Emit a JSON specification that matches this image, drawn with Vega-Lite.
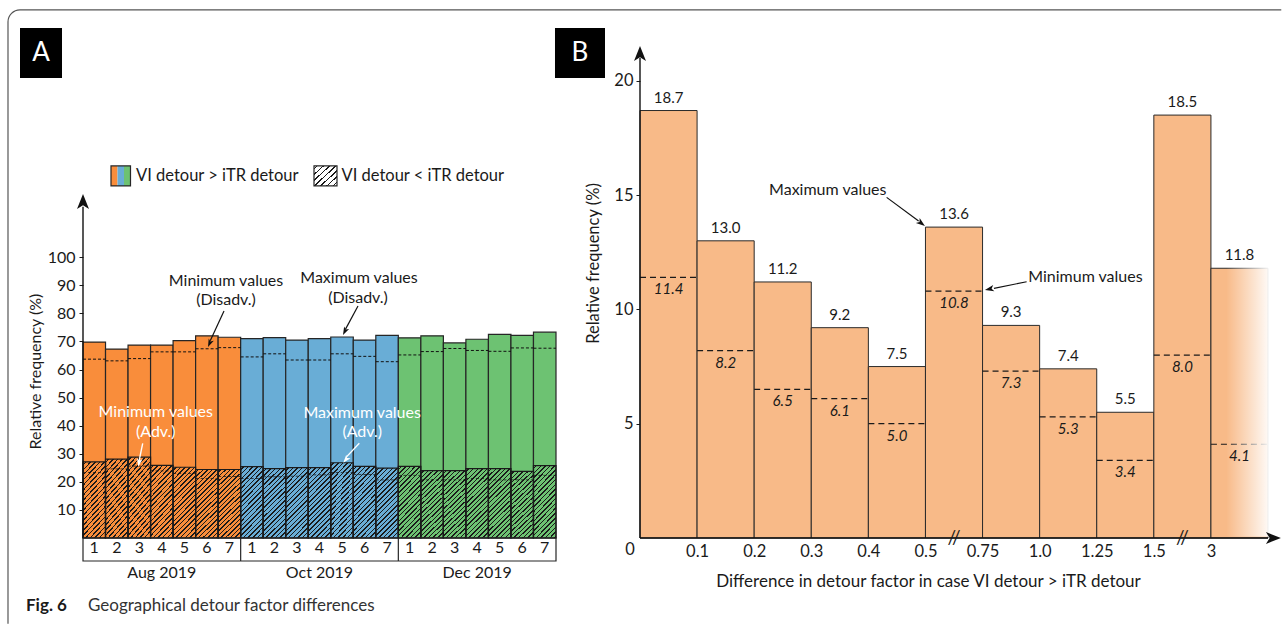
{
"$schema": "https://vega.github.io/schema/vega-lite/v6.json",
"background": "white",
"padding": {"left": 7, "top": 9, "right": 0, "bottom": 0},
"bounds": "flush",
"spacing": 84,
"config": {"view": {"stroke": null}, "font": "Lato", "text": {"font": "Lato"},
  "axis": {"labelFont": "Lato", "titleFont": "Lato", "labelColor": "#1a1a1a", "titleColor": "#1a1a1a", "tickColor": "#1a1a1a", "titleFontWeight": "normal", "labelOverlap": false, "labelBound": false}},
"datasets": {
 "A": [
  {"month": "Aug 2019", "day": 1, "max": 69.8, "maxMin": 63.7, "adv": 27.1, "advMin": 23.3},
  {"month": "Aug 2019", "day": 2, "max": 67.3, "maxMin": 63.1, "adv": 28.1, "advMin": 24.6},
  {"month": "Aug 2019", "day": 3, "max": 68.7, "maxMin": 63.9, "adv": 28.8, "advMin": 25.6},
  {"month": "Aug 2019", "day": 4, "max": 68.7, "maxMin": 66.3, "adv": 25.9, "advMin": 23.9},
  {"month": "Aug 2019", "day": 5, "max": 70.3, "maxMin": 66.3, "adv": 25.2, "advMin": 23.0},
  {"month": "Aug 2019", "day": 6, "max": 72.0, "maxMin": 67.4, "adv": 24.4, "advMin": 21.2},
  {"month": "Aug 2019", "day": 7, "max": 71.5, "maxMin": 67.8, "adv": 24.4, "advMin": 21.9},
  {"month": "Oct 2019", "day": 1, "max": 71.0, "maxMin": 64.5, "adv": 25.4, "advMin": 21.2},
  {"month": "Oct 2019", "day": 2, "max": 71.4, "maxMin": 65.6, "adv": 24.7, "advMin": 21.8},
  {"month": "Oct 2019", "day": 3, "max": 70.5, "maxMin": 63.4, "adv": 25.1, "advMin": 22.0},
  {"month": "Oct 2019", "day": 4, "max": 71.0, "maxMin": 63.4, "adv": 25.1, "advMin": 22.5},
  {"month": "Oct 2019", "day": 5, "max": 71.6, "maxMin": 65.6, "adv": 26.8, "advMin": 23.3},
  {"month": "Oct 2019", "day": 6, "max": 70.5, "maxMin": 64.7, "adv": 25.5, "advMin": 22.6},
  {"month": "Oct 2019", "day": 7, "max": 72.2, "maxMin": 62.8, "adv": 24.9, "advMin": 20.7},
  {"month": "Dec 2019", "day": 1, "max": 71.3, "maxMin": 65.2, "adv": 25.5, "advMin": 22.3},
  {"month": "Dec 2019", "day": 2, "max": 72.0, "maxMin": 66.4, "adv": 24.0, "advMin": 20.7},
  {"month": "Dec 2019", "day": 3, "max": 69.5, "maxMin": 67.5, "adv": 24.0, "advMin": 20.7},
  {"month": "Dec 2019", "day": 4, "max": 70.8, "maxMin": 66.8, "adv": 24.7, "advMin": 21.2},
  {"month": "Dec 2019", "day": 5, "max": 72.5, "maxMin": 66.5, "adv": 24.7, "advMin": 20.7},
  {"month": "Dec 2019", "day": 6, "max": 72.2, "maxMin": 67.7, "adv": 23.7, "advMin": 20.7},
  {"month": "Dec 2019", "day": 7, "max": 73.3, "maxMin": 67.6, "adv": 25.8, "advMin": 22.3}
 ],
 "B": [
  {"bin": "0-0.1", "max": 18.7, "min": 11.4},
  {"bin": "0.1-0.2", "max": 13.0, "min": 8.2},
  {"bin": "0.2-0.3", "max": 11.2, "min": 6.5},
  {"bin": "0.3-0.4", "max": 9.2, "min": 6.1},
  {"bin": "0.4-0.5", "max": 7.5, "min": 5.0},
  {"bin": "0.5-0.75", "max": 13.6, "min": 10.8},
  {"bin": "0.75-1.0", "max": 9.3, "min": 7.3},
  {"bin": "1.0-1.25", "max": 7.4, "min": 5.3},
  {"bin": "1.25-1.5", "max": 5.5, "min": 3.4},
  {"bin": "1.5-3", "max": 18.5, "min": 8.0},
  {"bin": ">3", "max": 11.8, "min": 4.1}
 ]
},
"hconcat": [
 {
  "width": 473, "height": 493,
  "layer": [
   {"data": {"name": "A"},
    "transform": [{"window": [{"op": "row_number", "as": "n"}]}, {"calculate": "datum.n - 1", "as": "n0"}],
    "mark": {"type": "bar", "stroke": "#262626", "strokeWidth": 1.2},
    "encoding": {
     "x": {"field": "n0", "type": "quantitative", "scale": {"domain": [0, 21], "nice": false, "zero": false},
       "axis": {"labels": false, "ticks": false, "domain": false, "grid": false, "title": null}},
     "x2": {"field": "n"},
     "y": {"field": "max", "type": "quantitative", "scale": {"domain": [0, 175.6], "nice": false},
       "axis": {"values": [10,20,30,40,50,60,70,80,90,100], "domain": false, "grid": false, "tickSize": 4, "labelPadding": 4, "labelFontSize": 16, "labelOverlap": false, "title": "Relative frequency (%)", "titleFontSize": 16, "titleX": -48, "titleY": 326, "titleAngle": -90, "titleBaseline": "middle", "titleAlign": "center"}},
     "y2": {"datum": 0},
     "color": {"field": "month", "type": "nominal", "scale": {"domain": ["Aug 2019", "Oct 2019", "Dec 2019"], "range": ["#F98D3B", "#69ADD6", "#6DC272"]}, "legend": null}
    }},
   {"data": {"name": "A"},
    "transform": [{"window": [{"op": "row_number", "as": "n"}]}, {"calculate": "datum.n - 1", "as": "n0"}],
    "mark": {"type": "bar", "stroke": "#1a1a1a", "strokeWidth": 1.2,
      "fill": {"gradient": "linear", "x1": 0, "y1": 0, "x2": 0.385, "y2": 1.198, "stops": [
       {"offset": 0, "color": "rgba(0,0,0,0)"},
       {"offset": 0.025, "color": "rgba(0,0,0,0)"}, {"offset": 0.025, "color": "#1a1a1a"}, {"offset": 0.041, "color": "#1a1a1a"}, {"offset": 0.041, "color": "rgba(0,0,0,0)"},
       {"offset": 0.075, "color": "rgba(0,0,0,0)"}, {"offset": 0.075, "color": "#1a1a1a"}, {"offset": 0.091, "color": "#1a1a1a"}, {"offset": 0.091, "color": "rgba(0,0,0,0)"},
       {"offset": 0.125, "color": "rgba(0,0,0,0)"}, {"offset": 0.125, "color": "#1a1a1a"}, {"offset": 0.141, "color": "#1a1a1a"}, {"offset": 0.141, "color": "rgba(0,0,0,0)"},
       {"offset": 0.175, "color": "rgba(0,0,0,0)"}, {"offset": 0.175, "color": "#1a1a1a"}, {"offset": 0.191, "color": "#1a1a1a"}, {"offset": 0.191, "color": "rgba(0,0,0,0)"},
       {"offset": 0.225, "color": "rgba(0,0,0,0)"}, {"offset": 0.225, "color": "#1a1a1a"}, {"offset": 0.241, "color": "#1a1a1a"}, {"offset": 0.241, "color": "rgba(0,0,0,0)"},
       {"offset": 0.275, "color": "rgba(0,0,0,0)"}, {"offset": 0.275, "color": "#1a1a1a"}, {"offset": 0.291, "color": "#1a1a1a"}, {"offset": 0.291, "color": "rgba(0,0,0,0)"},
       {"offset": 0.325, "color": "rgba(0,0,0,0)"}, {"offset": 0.325, "color": "#1a1a1a"}, {"offset": 0.341, "color": "#1a1a1a"}, {"offset": 0.341, "color": "rgba(0,0,0,0)"},
       {"offset": 0.375, "color": "rgba(0,0,0,0)"}, {"offset": 0.375, "color": "#1a1a1a"}, {"offset": 0.391, "color": "#1a1a1a"}, {"offset": 0.391, "color": "rgba(0,0,0,0)"},
       {"offset": 0.425, "color": "rgba(0,0,0,0)"}, {"offset": 0.425, "color": "#1a1a1a"}, {"offset": 0.441, "color": "#1a1a1a"}, {"offset": 0.441, "color": "rgba(0,0,0,0)"},
       {"offset": 0.475, "color": "rgba(0,0,0,0)"}, {"offset": 0.475, "color": "#1a1a1a"}, {"offset": 0.491, "color": "#1a1a1a"}, {"offset": 0.491, "color": "rgba(0,0,0,0)"},
       {"offset": 0.525, "color": "rgba(0,0,0,0)"}, {"offset": 0.525, "color": "#1a1a1a"}, {"offset": 0.541, "color": "#1a1a1a"}, {"offset": 0.541, "color": "rgba(0,0,0,0)"},
       {"offset": 0.575, "color": "rgba(0,0,0,0)"}, {"offset": 0.575, "color": "#1a1a1a"}, {"offset": 0.591, "color": "#1a1a1a"}, {"offset": 0.591, "color": "rgba(0,0,0,0)"},
       {"offset": 0.625, "color": "rgba(0,0,0,0)"}, {"offset": 0.625, "color": "#1a1a1a"}, {"offset": 0.641, "color": "#1a1a1a"}, {"offset": 0.641, "color": "rgba(0,0,0,0)"},
       {"offset": 0.675, "color": "rgba(0,0,0,0)"}, {"offset": 0.675, "color": "#1a1a1a"}, {"offset": 0.691, "color": "#1a1a1a"}, {"offset": 0.691, "color": "rgba(0,0,0,0)"},
       {"offset": 0.725, "color": "rgba(0,0,0,0)"}, {"offset": 0.725, "color": "#1a1a1a"}, {"offset": 0.741, "color": "#1a1a1a"}, {"offset": 0.741, "color": "rgba(0,0,0,0)"},
       {"offset": 0.775, "color": "rgba(0,0,0,0)"}, {"offset": 0.775, "color": "#1a1a1a"}, {"offset": 0.791, "color": "#1a1a1a"}, {"offset": 0.791, "color": "rgba(0,0,0,0)"},
       {"offset": 0.825, "color": "rgba(0,0,0,0)"}, {"offset": 0.825, "color": "#1a1a1a"}, {"offset": 0.841, "color": "#1a1a1a"}, {"offset": 0.841, "color": "rgba(0,0,0,0)"},
       {"offset": 0.875, "color": "rgba(0,0,0,0)"}, {"offset": 0.875, "color": "#1a1a1a"}, {"offset": 0.891, "color": "#1a1a1a"}, {"offset": 0.891, "color": "rgba(0,0,0,0)"},
       {"offset": 0.925, "color": "rgba(0,0,0,0)"}, {"offset": 0.925, "color": "#1a1a1a"}, {"offset": 0.941, "color": "#1a1a1a"}, {"offset": 0.941, "color": "rgba(0,0,0,0)"},
       {"offset": 0.975, "color": "rgba(0,0,0,0)"}, {"offset": 0.975, "color": "#1a1a1a"}, {"offset": 0.991, "color": "#1a1a1a"}, {"offset": 0.991, "color": "rgba(0,0,0,0)"},
       {"offset": 1, "color": "rgba(0,0,0,0)"}]}},
    "encoding": {
     "x": {"field": "n0", "type": "quantitative"},
     "x2": {"field": "n"},
     "y": {"field": "adv", "type": "quantitative"},
     "y2": {"datum": 0}
    }},
   {"data": {"name": "A"},
    "transform": [{"window": [{"op": "row_number", "as": "n"}]}, {"calculate": "datum.n - 1", "as": "n0"}],
    "mark": {"type": "rule", "stroke": "#111", "strokeWidth": 1, "strokeDash": [3, 2]},
    "encoding": {"x": {"field": "n0", "type": "quantitative"}, "x2": {"field": "n"}, "y": {"field": "maxMin", "type": "quantitative"}}},
   {"data": {"name": "A"},
    "transform": [{"window": [{"op": "row_number", "as": "n"}]}, {"calculate": "datum.n - 1", "as": "n0"}],
    "mark": {"type": "rule", "stroke": "#111", "strokeWidth": 1, "strokeDash": [3, 2], "strokeOpacity": 0.75},
    "encoding": {"x": {"field": "n0", "type": "quantitative"}, "x2": {"field": "n"}, "y": {"field": "advMin", "type": "quantitative"}}},
   {"data": {"name": "A"},
    "transform": [{"window": [{"op": "row_number", "as": "n"}]}, {"calculate": "datum.n - 0.5", "as": "mid"}],
    "mark": {"type": "text", "fontSize": 16, "fill": "#1a1a1a", "align": "center", "baseline": "middle"},
    "encoding": {"x": {"field": "mid", "type": "quantitative"}, "y": {"datum": -3.56}, "text": {"field": "day", "type": "nominal"}}},

   {"data": {"values": [{}]}, "mark": {"type": "rule", "stroke": "#555", "strokeWidth": 1.2},
    "encoding": {"x": {"datum": -2.797}, "x2": {"datum": 53.2}, "y": {"datum": 188.1}}},
   {"data": {"values": [{}]}, "mark": {"type": "rule", "stroke": "#555", "strokeWidth": 1.2},
    "encoding": {"x": {"datum": -3.33}, "y": {"datum": 183.83}, "y2": {"datum": -30.5}}},
   {"data": {"values": [{}]}, "mark": {"type": "arc", "radius": 12.6, "innerRadius": 11.4, "theta": 4.7124, "theta2": 6.2832, "fill": "#555"},
    "encoding": {"x": {"datum": -2.797}, "y": {"datum": 183.83}}},

   {"data": {"values": [{}]}, "mark": {"type": "rect", "fill": "#000"},
    "encoding": {"x": {"datum": -2.797}, "x2": {"datum": -0.932}, "y": {"datum": 181.69}, "y2": {"datum": 163.88}}},
   {"data": {"values": [{}]}, "mark": {"type": "text", "text": "A", "fill": "#fff", "fontSize": 26, "align": "center", "baseline": "middle"},
    "encoding": {"x": {"datum": -1.865}, "y": {"datum": 172.78}}},

   {"data": {"values": [{}]}, "mark": {"type": "rule", "stroke": "#111", "strokeWidth": 1.4},
    "encoding": {"x": {"datum": 0}, "y": {"datum": 0}, "y2": {"datum": 118}}},
   {"data": {"values": [{}]}, "mark": {"type": "point", "shape": "M0,0L0.8,2L0,1.5L-0.8,2Z", "filled": true, "fill": "#111", "size": 225, "angle": 0, "strokeWidth": 0, "opacity": 1},
    "encoding": {"x": {"datum": 0}, "y": {"datum": 122.55}}},

   {"data": {"values": [{}]}, "mark": {"type": "rect", "fill": "#fff", "fillOpacity": 0, "stroke": "#262626", "strokeWidth": 1.2},
    "encoding": {"x": {"datum": 0}, "x2": {"datum": 21}, "y": {"datum": 0}, "y2": {"datum": -8.19}}},
   {"data": {"values": [{}]}, "mark": {"type": "rule", "stroke": "#262626", "strokeWidth": 1.2},
    "encoding": {"x": {"datum": 7}, "y": {"datum": 0}, "y2": {"datum": -8.19}}},
   {"data": {"values": [{}]}, "mark": {"type": "rule", "stroke": "#262626", "strokeWidth": 1.2},
    "encoding": {"x": {"datum": 14}, "y": {"datum": 0}, "y2": {"datum": -8.19}}},
   {"data": {"values": [{}]}, "mark": {"type": "text", "text": "Aug 2019", "fontSize": 16, "fill": "#1a1a1a", "align": "center", "baseline": "middle"},
    "encoding": {"x": {"datum": 3.5}, "y": {"datum": -12.36}}},
   {"data": {"values": [{}]}, "mark": {"type": "text", "text": "Oct 2019", "fontSize": 16, "fill": "#1a1a1a", "align": "center", "baseline": "middle"},
    "encoding": {"x": {"datum": 10.5}, "y": {"datum": -12.36}}},
   {"data": {"values": [{}]}, "mark": {"type": "text", "text": "Dec 2019", "fontSize": 16, "fill": "#1a1a1a", "align": "center", "baseline": "middle"},
    "encoding": {"x": {"datum": 17.5}, "y": {"datum": -12.36}}},

   {"data": {"values": [{}]}, "mark": {"type": "rect", "fill": "#F98D3B"},
    "encoding": {"x": {"datum": 1.243}, "x2": {"datum": 1.532}, "y": {"datum": 132.53}, "y2": {"datum": 125.4}}},
   {"data": {"values": [{}]}, "mark": {"type": "rect", "fill": "#69ADD6"},
    "encoding": {"x": {"datum": 1.532}, "x2": {"datum": 1.82}, "y": {"datum": 132.53}, "y2": {"datum": 125.4}}},
   {"data": {"values": [{}]}, "mark": {"type": "rect", "fill": "#6DC272"},
    "encoding": {"x": {"datum": 1.82}, "x2": {"datum": 2.109}, "y": {"datum": 132.53}, "y2": {"datum": 125.4}}},
   {"data": {"values": [{}]}, "mark": {"type": "rect", "fill": "#fff", "fillOpacity": 0, "stroke": "#262626", "strokeWidth": 1.2},
    "encoding": {"x": {"datum": 1.243}, "x2": {"datum": 2.109}, "y": {"datum": 132.53}, "y2": {"datum": 125.4}}},
   {"data": {"values": [{}]}, "mark": {"type": "text", "text": "VI detour > iTR detour", "fontSize": 16.5, "fill": "#1a1a1a", "align": "left", "baseline": "middle"},
    "encoding": {"x": {"datum": 2.353}, "y": {"datum": 129.1}}},
   {"data": {"values": [{}]}, "mark": {"type": "rect", "stroke": "#262626", "strokeWidth": 1.2,
      "fill": {"gradient": "linear", "x1": 0, "y1": 0, "x2": 1.043, "y2": 0.953, "stops": [
       {"offset": 0, "color": "#ffffff"},
       {"offset": 0.05, "color": "#ffffff"}, {"offset": 0.05, "color": "#1a1a1a"}, {"offset": 0.09, "color": "#1a1a1a"}, {"offset": 0.09, "color": "#ffffff"},
       {"offset": 0.19, "color": "#ffffff"}, {"offset": 0.19, "color": "#1a1a1a"}, {"offset": 0.23, "color": "#1a1a1a"}, {"offset": 0.23, "color": "#ffffff"},
       {"offset": 0.33, "color": "#ffffff"}, {"offset": 0.33, "color": "#1a1a1a"}, {"offset": 0.37, "color": "#1a1a1a"}, {"offset": 0.37, "color": "#ffffff"},
       {"offset": 0.47, "color": "#ffffff"}, {"offset": 0.47, "color": "#1a1a1a"}, {"offset": 0.51, "color": "#1a1a1a"}, {"offset": 0.51, "color": "#ffffff"},
       {"offset": 0.61, "color": "#ffffff"}, {"offset": 0.61, "color": "#1a1a1a"}, {"offset": 0.65, "color": "#1a1a1a"}, {"offset": 0.65, "color": "#ffffff"},
       {"offset": 0.75, "color": "#ffffff"}, {"offset": 0.75, "color": "#1a1a1a"}, {"offset": 0.79, "color": "#1a1a1a"}, {"offset": 0.79, "color": "#ffffff"},
       {"offset": 0.89, "color": "#ffffff"}, {"offset": 0.89, "color": "#1a1a1a"}, {"offset": 0.93, "color": "#1a1a1a"}, {"offset": 0.93, "color": "#ffffff"},
       {"offset": 1, "color": "#ffffff"}]}},
    "encoding": {"x": {"datum": 10.256}, "x2": {"datum": 11.277}, "y": {"datum": 132.53}, "y2": {"datum": 125.4}}},
   {"data": {"values": [{}]}, "mark": {"type": "text", "text": "VI detour < iTR detour", "fontSize": 16.5, "fill": "#1a1a1a", "align": "left", "baseline": "middle"},
    "encoding": {"x": {"datum": 11.477}, "y": {"datum": 129.1}}},

   {"data": {"values": [{}]}, "mark": {"type": "text", "text": "Minimum values", "fontSize": 16, "fill": "#1a1a1a", "align": "center", "baseline": "middle"},
    "encoding": {"x": {"datum": 6.349}, "y": {"datum": 91.38}}},
   {"data": {"values": [{}]}, "mark": {"type": "text", "text": "(Disadv.)", "fontSize": 16, "fill": "#1a1a1a", "align": "center", "baseline": "middle"},
    "encoding": {"x": {"datum": 6.349}, "y": {"datum": 84.61}}},
   {"data": {"values": [{}]}, "mark": {"type": "rule", "stroke": "#111", "strokeWidth": 1.2},
    "encoding": {"x": {"datum": 6.26}, "x2": {"datum": 5.65}, "y": {"datum": 80.87}, "y2": {"datum": 70.3}}},
   {"data": {"values": [{}]}, "mark": {"type": "point", "shape": "M0,0L0.7,2L0,1.5L-0.7,2Z", "filled": true, "fill": "#111", "size": 64, "angle": 204, "strokeWidth": 0, "opacity": 1},
    "encoding": {"x": {"datum": 5.55}, "y": {"datum": 68.04}}},
   {"data": {"values": [{}]}, "mark": {"type": "text", "text": "Maximum values", "fontSize": 16, "fill": "#1a1a1a", "align": "center", "baseline": "middle"},
    "encoding": {"x": {"datum": 12.254}, "y": {"datum": 92.45}}},
   {"data": {"values": [{}]}, "mark": {"type": "text", "text": "(Disadv.)", "fontSize": 16, "fill": "#1a1a1a", "align": "center", "baseline": "middle"},
    "encoding": {"x": {"datum": 12.209}, "y": {"datum": 85.32}}},
   {"data": {"values": [{}]}, "mark": {"type": "rule", "stroke": "#111", "strokeWidth": 1.2},
    "encoding": {"x": {"datum": 12.209}, "x2": {"datum": 11.65}, "y": {"datum": 82.65}, "y2": {"datum": 74.3}}},
   {"data": {"values": [{}]}, "mark": {"type": "point", "shape": "M0,0L0.7,2L0,1.5L-0.7,2Z", "filled": true, "fill": "#111", "size": 64, "angle": 207, "strokeWidth": 0, "opacity": 1},
    "encoding": {"x": {"datum": 11.543}, "y": {"datum": 72.32}}},

   {"data": {"values": [{}]}, "mark": {"type": "text", "text": "Minimum values", "fontSize": 16, "fill": "#ffffff", "align": "center", "baseline": "middle"},
    "encoding": {"x": {"datum": 3.232}, "y": {"datum": 44.99}}},
   {"data": {"values": [{}]}, "mark": {"type": "text", "text": "(Adv.)", "fontSize": 16, "fill": "#ffffff", "align": "center", "baseline": "middle"},
    "encoding": {"x": {"datum": 3.232}, "y": {"datum": 37.87}}},
   {"data": {"values": [{}]}, "mark": {"type": "rule", "stroke": "#ffffff", "strokeWidth": 1.4},
    "encoding": {"x": {"datum": 2.651}, "x2": {"datum": 2.49}, "y": {"datum": 33.74}, "y2": {"datum": 27.5}}},
   {"data": {"values": [{}]}, "mark": {"type": "point", "shape": "M0,0L0.7,2L0,1.5L-0.7,2Z", "filled": true, "fill": "#ffffff", "size": 64, "angle": 190.6, "strokeWidth": 0, "opacity": 1},
    "encoding": {"x": {"datum": 2.455}, "y": {"datum": 25.4}}},
   {"data": {"values": [{}]}, "mark": {"type": "text", "text": "Maximum values", "fontSize": 16, "fill": "#ffffff", "align": "center", "baseline": "middle"},
    "encoding": {"x": {"datum": 12.396}, "y": {"datum": 44.64}}},
   {"data": {"values": [{}]}, "mark": {"type": "text", "text": "(Adv.)", "fontSize": 16, "fill": "#ffffff", "align": "center", "baseline": "middle"},
    "encoding": {"x": {"datum": 12.396}, "y": {"datum": 37.87}}},
   {"data": {"values": [{}]}, "mark": {"type": "rule", "stroke": "#ffffff", "strokeWidth": 1.4},
    "encoding": {"x": {"datum": 12.267}, "x2": {"datum": 11.7}, "y": {"datum": 33.74}, "y2": {"datum": 28.9}}},
   {"data": {"values": [{}]}, "mark": {"type": "point", "shape": "M0,0L0.7,2L0,1.5L-0.7,2Z", "filled": true, "fill": "#ffffff", "size": 64, "angle": 219.5, "strokeWidth": 0, "opacity": 1},
    "encoding": {"x": {"datum": 11.557}, "y": {"datum": 26.83}}},

   {"data": {"values": [{}]}, "mark": {"type": "text", "text": "Fig. 6", "fontSize": 17, "fontWeight": "bold", "fill": "#1a1a1a", "align": "left", "baseline": "middle"},
    "encoding": {"x": {"datum": -2.531}, "y": {"datum": -24.23}}},
   {"data": {"values": [{}]}, "mark": {"type": "text", "text": "Geographical detour factor differences", "fontSize": 17, "fill": "#333", "align": "left", "baseline": "middle"},
    "encoding": {"x": {"datum": 0.222}, "y": {"datum": -24.23}}}
  ]
 },
 {
  "width": 644, "height": 493,
  "layer": [
   {"data": {"name": "B"},
    "transform": [{"window": [{"op": "row_number", "as": "n"}]}, {"calculate": "datum.n - 1", "as": "n0"}],
    "mark": {"type": "bar", "fill": "#F8BA88", "stroke": "#2a2a2a", "strokeWidth": 1},
    "encoding": {
     "x": {"field": "n0", "type": "quantitative", "scale": {"domain": [0, 11.28], "nice": false, "zero": false},
       "axis": {"values": [1,2,3,4,5,6,7,8,9,10], "labelExpr": "['0.1','0.2','0.3','0.4','0.5','0.75','1.0','1.25','1.5','3'][datum.value - 1]", "ticks": false, "tickSize": 0, "domain": false, "grid": false, "labelFontSize": 16.5, "labelPadding": 13, "labelBaseline": "middle", "labelFlush": false, "labelOverlap": false,
         "title": "Difference in detour factor in case VI detour > iTR detour", "titleFontSize": 17, "titleX": 288, "titleY": 43, "titleBaseline": "middle", "titleAlign": "center"}},
     "x2": {"field": "n"},
     "y": {"field": "max", "type": "quantitative", "scale": {"domain": [0, 21.566], "nice": false},
       "axis": {"values": [5, 10, 15, 20], "domain": false, "grid": false, "tickSize": 4, "labelPadding": 3, "labelFontSize": 16.5, "labelOverlap": false,
         "title": "Relative frequency (%)", "titleFontSize": 16.5, "titleX": -47, "titleY": 218, "titleAngle": -90, "titleBaseline": "middle", "titleAlign": "center"}},
     "y2": {"datum": 0}
    }},
   {"data": {"name": "B"},
    "transform": [{"window": [{"op": "row_number", "as": "n"}]}, {"calculate": "datum.n - 1", "as": "n0"}],
    "mark": {"type": "rule", "stroke": "#1a1a1a", "strokeWidth": 1.2, "strokeDash": [6, 4]},
    "encoding": {"x": {"field": "n0", "type": "quantitative"}, "x2": {"field": "n"}, "y": {"field": "min", "type": "quantitative"}}},
   {"data": {"values": [{}]}, "mark": {"type": "rect",
      "fill": {"gradient": "linear", "x1": 0, "y1": 0, "x2": 1, "y2": 0, "stops": [
       {"offset": 0, "color": "rgba(255,255,255,0)"}, {"offset": 0.2, "color": "rgba(255,255,255,0)"}, {"offset": 0.85, "color": "#ffffff"}, {"offset": 1, "color": "#ffffff"}]}},
    "encoding": {"x": {"datum": 10.025}, "x2": {"datum": 11.25}, "y": {"datum": 0.05}, "y2": {"datum": 12.6}}},
   {"data": {"name": "B"},
    "transform": [{"window": [{"op": "row_number", "as": "n"}]}, {"calculate": "datum.n - 0.5", "as": "mid"}],
    "mark": {"type": "text", "fontSize": 15, "fill": "#1a1a1a", "baseline": "bottom", "dy": -5, "align": "center"},
    "encoding": {"x": {"field": "mid", "type": "quantitative"}, "y": {"field": "max", "type": "quantitative"}, "text": {"field": "max", "type": "quantitative", "format": ".1f"}}},
   {"data": {"name": "B"},
    "transform": [{"window": [{"op": "row_number", "as": "n"}]}, {"calculate": "datum.n - 0.5", "as": "mid"}],
    "mark": {"type": "text", "fontSize": 15, "fontStyle": "italic", "fill": "#1a1a1a", "baseline": "top", "dy": 5, "align": "center"},
    "encoding": {"x": {"field": "mid", "type": "quantitative"}, "y": {"field": "min", "type": "quantitative"}, "text": {"field": "min", "type": "quantitative", "format": ".1f"}}},

   {"data": {"values": [{}]}, "mark": {"type": "rule", "stroke": "#111", "strokeWidth": 1.4},
    "encoding": {"x": {"datum": 0}, "y": {"datum": 0}, "y2": {"datum": 21.0}}},
   {"data": {"values": [{}]}, "mark": {"type": "point", "shape": "M0,0L0.8,2L0,1.5L-0.8,2Z", "filled": true, "fill": "#111", "size": 225, "angle": 0, "strokeWidth": 0, "opacity": 1},
    "encoding": {"x": {"datum": 0}, "y": {"datum": 21.52}}},
   {"data": {"values": [{}]}, "mark": {"type": "rule", "stroke": "#111", "strokeWidth": 1.4},
    "encoding": {"x": {"datum": 0}, "x2": {"datum": 11.0}, "y": {"datum": 0}}},
   {"data": {"values": [{}]}, "mark": {"type": "point", "shape": "M0,0L0.8,2L0,1.5L-0.8,2Z", "filled": true, "fill": "#111", "size": 225, "angle": 90, "strokeWidth": 0, "opacity": 1},
    "encoding": {"x": {"datum": 11.226}, "y": {"datum": 0}}},
   {"data": {"values": [{}]}, "mark": {"type": "text", "text": "0", "fontSize": 16.5, "fill": "#1a1a1a", "align": "center", "baseline": "middle"},
    "encoding": {"x": {"datum": -0.175}, "y": {"datum": -0.52}}},
   {"data": {"values": [{}]}, "mark": {"type": "text", "text": "//", "fontSize": 19, "fill": "#1a1a1a", "align": "center", "baseline": "middle"},
    "encoding": {"x": {"datum": 5.5}, "y": {"datum": 0}}},
   {"data": {"values": [{}]}, "mark": {"type": "text", "text": "//", "fontSize": 19, "fill": "#1a1a1a", "align": "center", "baseline": "middle"},
    "encoding": {"x": {"datum": 9.502}, "y": {"datum": 0}}},

   {"data": {"values": [{}]}, "mark": {"type": "rect", "fill": "#000"},
    "encoding": {"x": {"datum": -1.489}, "x2": {"datum": -0.613}, "y": {"datum": 22.31}, "y2": {"datum": 20.12}}},
   {"data": {"values": [{}]}, "mark": {"type": "text", "text": "B", "fill": "#fff", "fontSize": 26, "align": "center", "baseline": "middle"},
    "encoding": {"x": {"datum": -1.051}, "y": {"datum": 21.22}}},

   {"data": {"values": [{}]}, "mark": {"type": "text", "text": "Maximum values", "fontSize": 16, "fill": "#1a1a1a", "align": "center", "baseline": "middle"},
    "encoding": {"x": {"datum": 3.289}, "y": {"datum": 15.22}}},
   {"data": {"values": [{}]}, "mark": {"type": "rule", "stroke": "#111", "strokeWidth": 1.2},
    "encoding": {"x": {"datum": 4.32}, "x2": {"datum": 4.88}, "y": {"datum": 14.9}, "y2": {"datum": 13.87}}},
   {"data": {"values": [{}]}, "mark": {"type": "point", "shape": "M0,0L0.7,2L0,1.5L-0.7,2Z", "filled": true, "fill": "#111", "size": 81, "angle": 126.9, "strokeWidth": 0, "opacity": 1},
    "encoding": {"x": {"datum": 4.991}, "y": {"datum": 13.65}}},
   {"data": {"values": [{}]}, "mark": {"type": "text", "text": "Minimum values", "fontSize": 16, "fill": "#1a1a1a", "align": "left", "baseline": "middle"},
    "encoding": {"x": {"datum": 6.8}, "y": {"datum": 11.43}}},
   {"data": {"values": [{}]}, "mark": {"type": "rule", "stroke": "#111", "strokeWidth": 1.2},
    "encoding": {"x": {"datum": 6.772}, "x2": {"datum": 6.2}, "y": {"datum": 11.21}, "y2": {"datum": 10.92}}},
   {"data": {"values": [{}]}, "mark": {"type": "point", "shape": "M0,0L0.7,2L0,1.5L-0.7,2Z", "filled": true, "fill": "#111", "size": 81, "angle": 258.75, "strokeWidth": 0, "opacity": 1},
    "encoding": {"x": {"datum": 6.042}, "y": {"datum": 10.85}}}
  ]
 }
]
}
